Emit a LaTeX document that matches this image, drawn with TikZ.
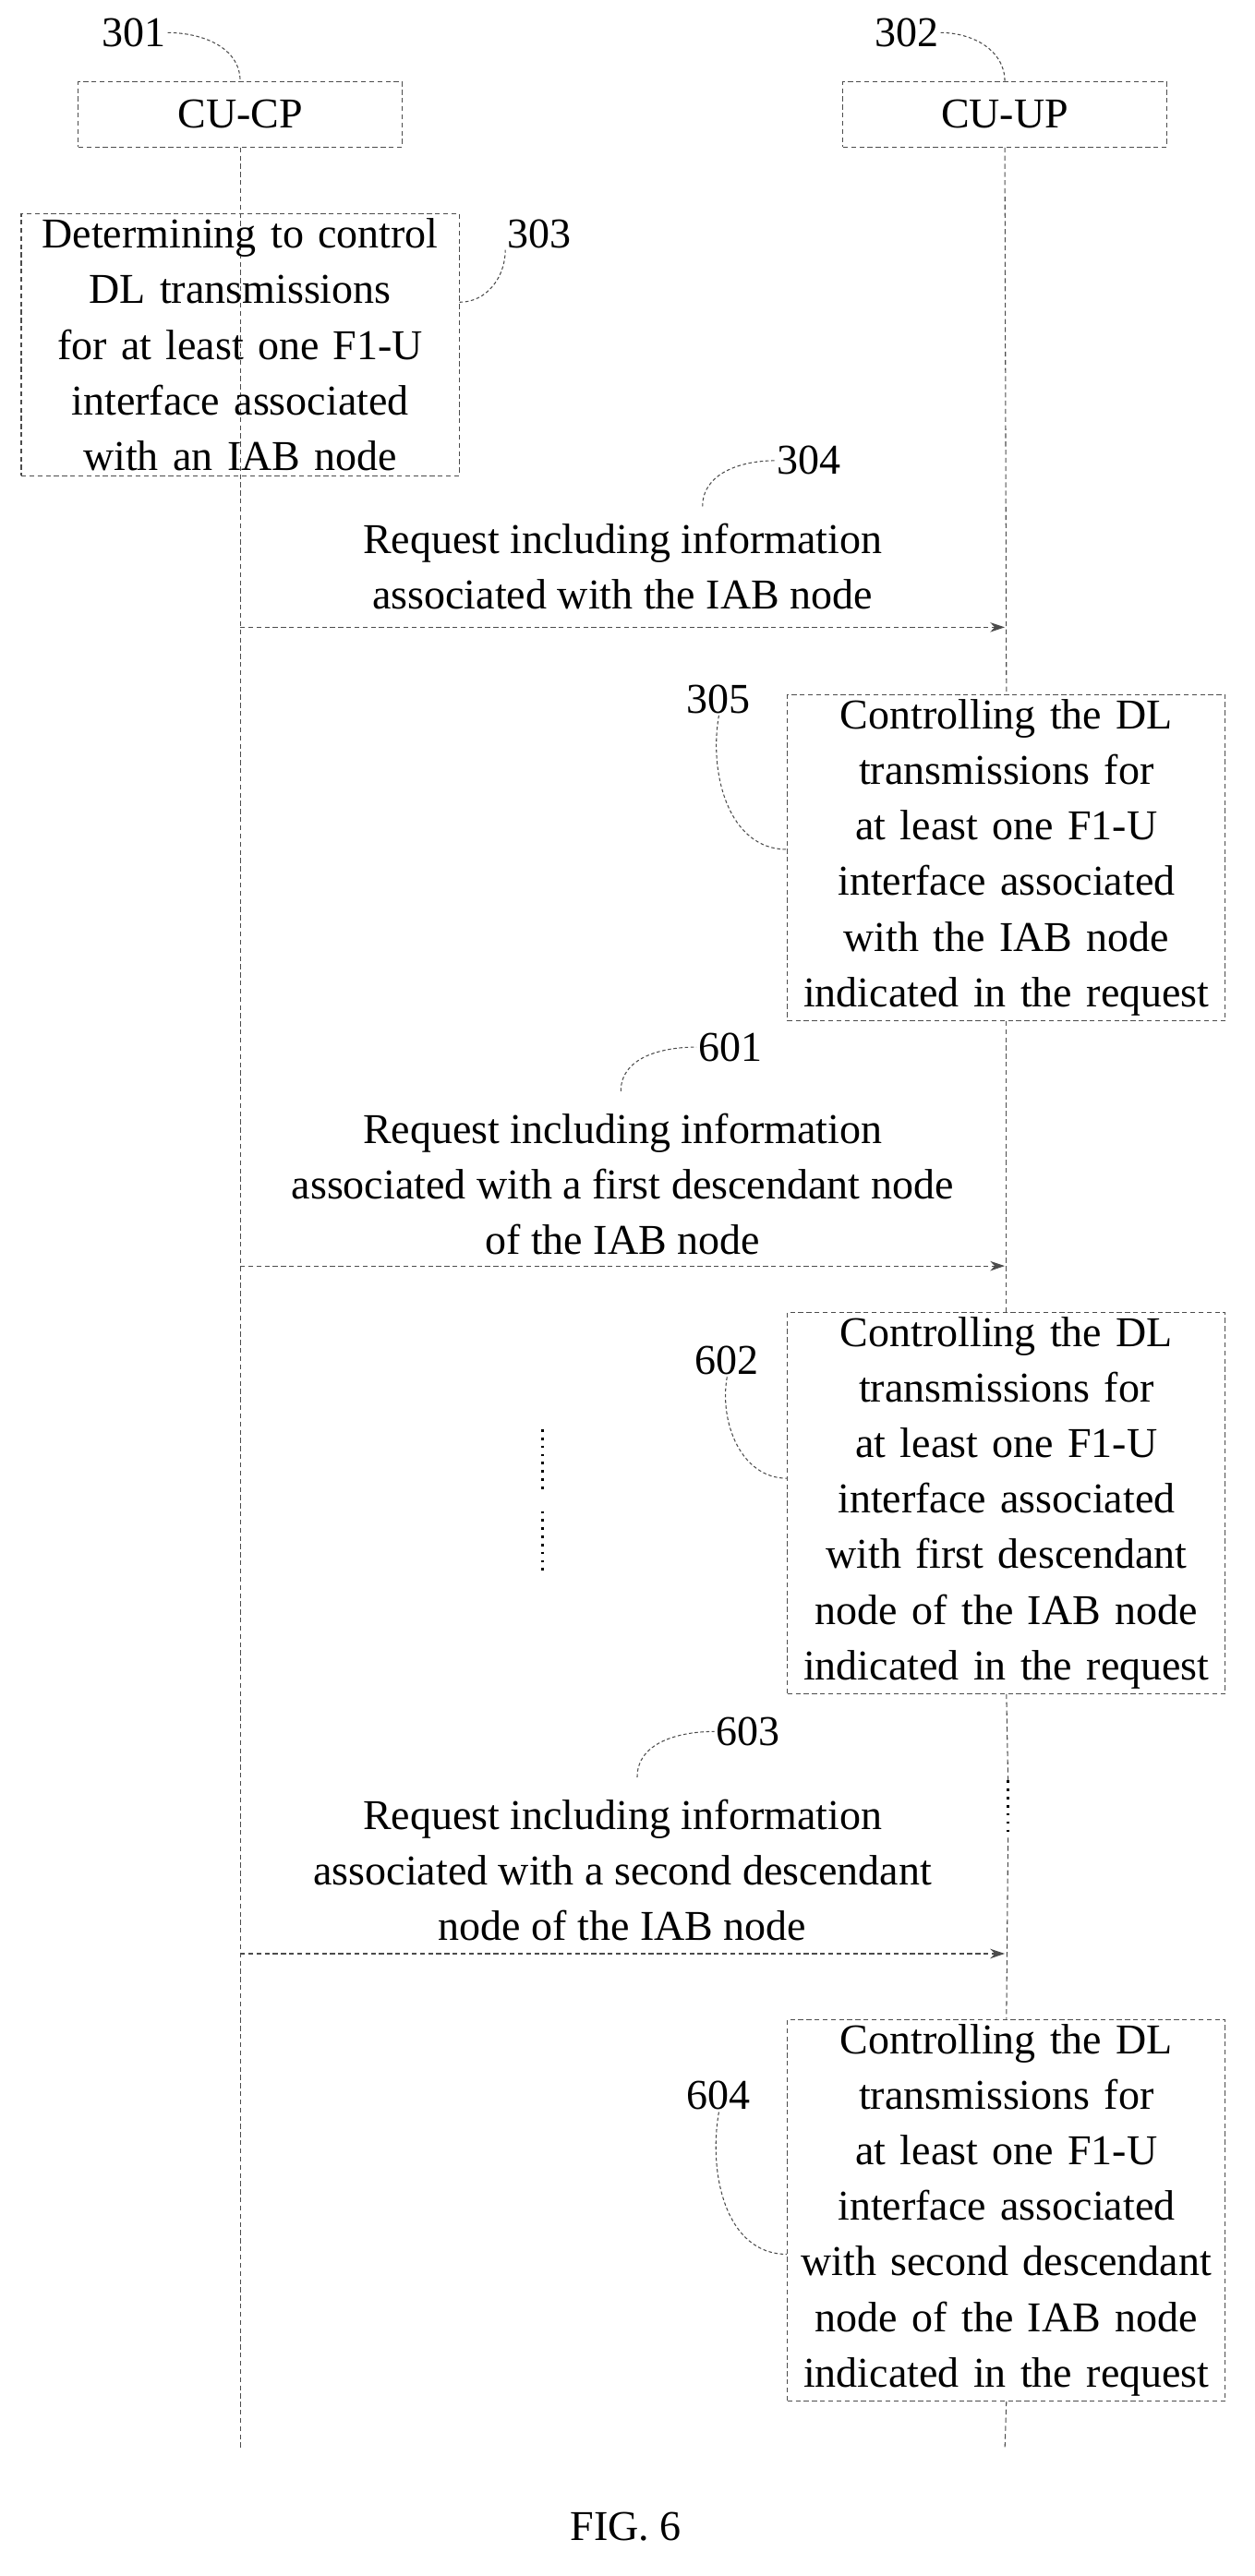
\documentclass[tikz,border=0pt]{standalone}
\usepackage{fontspec}
\setmainfont{Liberation Serif}
\usetikzlibrary{arrows.meta}
\tikzset{
  dline/.style = {dash pattern=on 3pt off 2pt, line width=0.6pt, draw=black!70},
  ent/.style = {dline, draw, minimum width=198pt, minimum height=40pt, inner sep=0pt},
  step/.style = {dline, draw, align=center, text width=#1, inner sep=3pt},
  step/.default = 262pt,
  lbl/.style = {inner sep=1pt},
  msg/.style = {dline, -{Stealth[length=9pt,width=6pt]}},
  lead/.style = {dline, dash pattern=on 2pt off 1.5pt}
}
\begin{document}
\begin{tikzpicture}[x=1pt,y=-1pt,font=\fontsize{26}{34}\selectfont]
	\useasboundingbox (0,0) rectangle (768,1577);

	% Entities
	\node[ent] (cucp) at (147,70) {CU-CP};
	\node[ent] (cuup) at (615,70) {CU-UP};
	\node[lbl] (l301) at (82,20) {301};
	\node[lbl] (l302) at (555,20) {302};
	\draw[lead] (l301.east) to[out=0,in=90] (cucp.north);
	\draw[lead] (l302.east) to[out=0,in=90] (cuup.north);

	% Lifelines
	\coordinate (cpend) at (147,1500);
	\coordinate (upend) at (615,1500);
	\draw[dline] (cucp.south) -- (cpend);

	% Step 303
	\node[step=262pt] (s303) at (147,211) {Determining to control DL transmissions for at least one F1-U interface associated with an IAB node};
	\node[lbl] (l303) at (330,143) {303};
	\draw[lead] (s303.east |- 0,185) to[out=0,in=-90] (l303.south west);

	% Message 304
	\coordinate (a304) at (147,384);
	\coordinate (b304) at (615,384);
	\node[lbl, align=center] (m304) at (381,347) {Request including information\\associated with the IAB node};
	\node[lbl] (l304) at (495,282) {304};
	\draw[msg] (a304) -- (b304);
	\draw[lead] (430,310) to[out=90,in=180] (l304.west);

	% Step 305
	\node[step=262pt] (s305) at (616,525) {Controlling the DL transmissions for at least one F1-U interface associated with the IAB node indicated in the request};
	\node[lbl] (l305) at (440,428) {305};
	\draw[lead] (l305.south) to[out=-100,in=180] (s305.west |- 0,520);

	% Message 601
	\coordinate (a601) at (147,775);
	\coordinate (b601) at (615,775);
	\node[lbl, align=center] (m601) at (381,725) {Request including information\\associated with a first descendant node\\of the IAB node};
	\node[lbl] (l601) at (447,641) {601};
	\draw[msg] (a601) -- (b601);
	\draw[lead] (380,668) to[out=90,in=180] (l601.west);

	% Step 602
	\node[step=262pt] (s602) at (616,920) {Controlling the DL transmissions for at least one F1-U interface associated with first descendant node of the IAB node indicated in the request};
	\node[lbl] (l602) at (445,833) {602};
	\draw[lead] (l602.south) to[out=-100,in=180] (s602.west |- 0,905);
	\draw[line width=2pt, dash pattern=on 1.5pt off 3.5pt] (332,875) -- (332,912);
	\draw[line width=2pt, dash pattern=on 1.5pt off 3.5pt] (332,925) -- (332,962);

	% Message 603
	\coordinate (a603) at (147,1196);
	\coordinate (b603) at (615,1196);
	\node[lbl, align=center] (m603) at (381,1145) {Request including information\\associated with a second descendant\\node of the IAB node};
	\node[lbl] (l603) at (458,1060) {603};
	\draw[msg] (a603) -- (b603);
	\draw[lead] (390,1088) to[out=90,in=180] (l603.west);
	\draw[line width=2pt, dash pattern=on 1.5pt off 3.5pt] (617,1090) -- (617,1125);

	% Step 604
	\node[step=262pt] (s604) at (616,1353) {Controlling the DL transmissions for at least one F1-U interface associated with second descendant node of the IAB node indicated in the request};
	\node[lbl] (l604) at (440,1283) {604};
	\draw[lead] (l604.south) to[out=-100,in=180] (s604.west |- 0,1380);

	% CU-UP lifeline pieces
	\draw[dline] (cuup.south) -- (s305.north);
	\draw[dline] (s305.south) -- (s602.north);
	\draw[dline] (s602.south) -- (617,1090);
	\draw[dline] (617,1125) -- (s604.north);
	\draw[dline] (s604.south) -- (upend);

	\node[lbl] (fig) at (383,1547) {FIG. 6};
\end{tikzpicture}
\end{document}
